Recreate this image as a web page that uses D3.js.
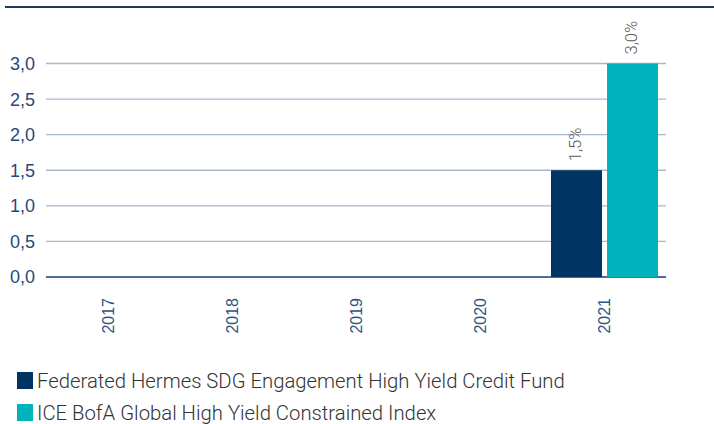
<!DOCTYPE html>
<html>
<head>
<meta charset="utf-8">
<script src="https://cdn.jsdelivr.net/npm/d3@7"></script>
<style>
  body { margin: 0; background: #fff; }
  text { font-family: "Liberation Sans", Arial, sans-serif; }
</style>
</head>
<body>
<script>
// size of the page
var w = 714;
var h = 424;

// data
var years = ["2017", "2018", "2019", "2020", "2021"];
var seriesNames = ["Federated Hermes SDG Engagement High Yield Credit Fund",
                   "ICE BofA Global High Yield Constrained Index"];
var fundValues = [null, null, null, null, 1.5];
var indexValues = [null, null, null, null, 3.0];
var yTicks = [0, 0.5, 1, 1.5, 2, 2.5, 3];
var colors = ["#003462", "#00b2bb"];

var margin = { left: 46, right: 48, top: 63.5, bottom: 147 };

var svg = d3.select("body")
            .append("svg")
            .attr("width", w)
            .attr("height", h);

// top rule
svg.append("line")
    .attr("x1", 5).attr("x2", w)
    .attr("y1", 7).attr("y2", 7)
    .attr("stroke", "#1f3a5f")
    .attr("stroke-width", 2);

var x0 = d3.scaleBand()
            .domain(years)
            .range([margin.left, w - margin.right]);

var x1 = d3.scaleBand()
            .domain([0, 1])
            .range([9, x0.bandwidth() - 8])
            .paddingInner(0.09);

var yScale = d3.scaleLinear()
            .domain([0, 3])
            .range([h - margin.bottom, margin.top]);

var fmt = function(v) { return d3.format(".1f")(v).replace(".", ","); };

// gridlines
svg.append("g")
    .selectAll("line")
    .data(yTicks)
    .enter()
    .append("line")
    .attr("x1", margin.left)
    .attr("x2", w - margin.right)
    .attr("y1", function(d) { return yScale(d); })
    .attr("y2", function(d) { return yScale(d); })
    .attr("stroke", function(d) { return d === 0 ? "#4d6d98" : "#a8b8d0"; })
    .attr("stroke-width", function(d) { return d === 0 ? 2.2 : 1.3; });

// y axis labels
svg.append("g")
    .selectAll("text")
    .data(yTicks)
    .enter()
    .append("text")
    .attr("x", 35)
    .attr("y", function(d) { return yScale(d); })
    .attr("dy", "0.36em")
    .attr("text-anchor", "end")
    .attr("fill", "#1f4a7a")
    .style("font-size", "18px")
    .text(fmt);

// x axis labels (rotated)
svg.append("g")
    .selectAll("text")
    .data(years)
    .enter()
    .append("text")
    .attr("transform", function(d) {
        return "translate(" + (x0(d) + x0.bandwidth() / 2) + ",298) rotate(-90)";
    })
    .attr("dy", "0.36em")
    .attr("text-anchor", "end")
    .attr("fill", "#2a5585")
    .style("font-size", "16px")
    .text(function(d) { return d; });

// bars
var rows = [];
years.forEach(function(y, i) {
    [fundValues[i], indexValues[i]].forEach(function(v, s) {
        if (v !== null) rows.push({ year: y, s: s, v: v });
    });
});

var groups = svg.append("g");

groups.selectAll("rect")
    .data(rows)
    .enter()
    .append("rect")
    .attr("x", function(d) { return x0(d.year) + x1(d.s); })
    .attr("y", function(d) { return yScale(d.v); })
    .attr("width", x1.bandwidth())
    .attr("height", function(d) { return yScale(0) - yScale(d.v); })
    .attr("fill", function(d) { return colors[d.s]; });

// value labels
groups.selectAll("text")
    .data(rows)
    .enter()
    .append("text")
    .attr("transform", function(d) {
        var cx = x0(d.year) + x1(d.s) + x1.bandwidth() / 2 - 1.5;
        return "translate(" + cx + "," + (yScale(d.v) - 9) + ") rotate(-90)";
    })
    .attr("dy", "0.36em")
    .attr("fill", "#5a5a5a")
    .style("font-family", "Roboto, sans-serif")
    .style("font-weight", 300)
    .style("font-size", "16.5px")
    .text(function(d) { return fmt(d.v) + "%"; });

// legend
var legend = svg.append("g")
    .selectAll("g")
    .data(seriesNames)
    .enter()
    .append("g")
    .attr("transform", function(d, i) { return "translate(17," + (372 + i * 32) + ")"; });

legend.append("rect")
    .attr("width", 16)
    .attr("height", 17)
    .attr("fill", function(d, i) { return colors[i]; });

legend.append("text")
    .attr("x", 20)
    .attr("y", 8.5)
    .attr("dy", "0.36em")
    .attr("fill", "#333")
    .style("font-family", "Roboto, sans-serif")
    .style("font-size", "20.3px")
    .style("font-weight", 300)
    .text(function(d) { return d; });
</script>
</body>
</html>
